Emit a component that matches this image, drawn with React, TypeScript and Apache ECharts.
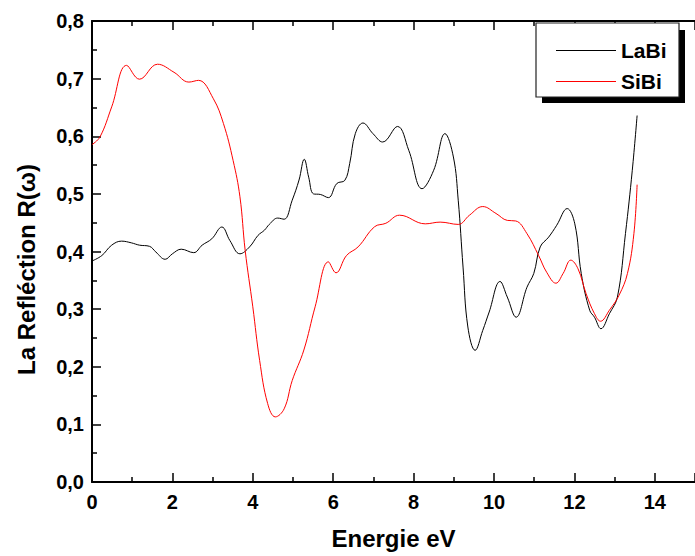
import React, { useEffect, useRef } from "react";
import * as echarts from "echarts";

const laBiX = [0.0, 0.245, 0.49, 0.735, 0.98, 1.18, 1.43, 1.59, 1.82, 2.0, 2.22, 2.53, 2.74, 2.98, 3.23, 3.43, 3.68, 3.92, 4.13, 4.29, 4.41, 4.62, 4.78, 4.98, 5.15, 5.28, 5.39, 5.51, 5.68, 5.88, 6.09, 6.29, 6.41, 6.55, 6.74, 6.99, 7.23, 7.6, 7.88, 8.21, 8.5, 8.78, 8.99, 9.11, 9.23, 9.35, 9.53, 9.72, 9.88, 10.15, 10.33, 10.55, 10.82, 10.99, 11.15, 11.36, 11.56, 11.82, 12.01, 12.17, 12.38, 12.5, 12.66, 12.87, 13.07, 13.27, 13.44, 13.56];
const laBiY = [0.3835, 0.393, 0.411, 0.418, 0.415, 0.411, 0.409, 0.399, 0.3865, 0.396, 0.404, 0.398, 0.411, 0.422, 0.4425, 0.419, 0.396, 0.408, 0.428, 0.437, 0.447, 0.458, 0.456, 0.489, 0.524, 0.56, 0.529, 0.5, 0.499, 0.4935, 0.518, 0.5235, 0.5525, 0.6045, 0.623, 0.6045, 0.59, 0.617, 0.5755, 0.509, 0.541, 0.6045, 0.564, 0.489, 0.373, 0.269, 0.2285, 0.263, 0.295, 0.348, 0.321, 0.286, 0.338, 0.362, 0.408, 0.425, 0.4455, 0.4745, 0.448, 0.362, 0.298, 0.286, 0.266, 0.292, 0.321, 0.431, 0.541, 0.636];

const siBiX = [0.0, 0.2, 0.49, 0.86, 1.18, 1.63, 2.04, 2.41, 2.65, 3.02, 3.27, 3.51, 3.68, 3.81, 4.0, 4.17, 4.37, 4.56, 4.78, 4.98, 5.27, 5.55, 5.88, 6.07, 6.33, 6.62, 7.03, 7.31, 7.65, 8.29, 8.66, 9.11, 9.39, 9.72, 10.05, 10.33, 10.54, 10.82, 11.11, 11.31, 11.54, 11.72, 11.91, 12.09, 12.29, 12.5, 12.65, 12.87, 13.11, 13.32, 13.48, 13.56];
const siBiY = [0.5855, 0.599, 0.651, 0.723, 0.699, 0.725, 0.711, 0.694, 0.697, 0.665, 0.622, 0.558, 0.495, 0.402, 0.304, 0.211, 0.136, 0.113, 0.127, 0.176, 0.229, 0.304, 0.382, 0.363, 0.393, 0.408, 0.443, 0.449, 0.463, 0.448, 0.451, 0.447, 0.463, 0.478, 0.466, 0.454, 0.453, 0.431, 0.393, 0.364, 0.345, 0.362, 0.385, 0.37, 0.327, 0.292, 0.279, 0.298, 0.324, 0.362, 0.431, 0.516];

const seriesNames = ["LaBi", "SiBi"];
const xTitle = "Energie eV";
const yTitle = "La Refléction R(ω)";

const FONT = "'Liberation Sans', Arial, sans-serif";

export default function App() {
  const ref = useRef<HTMLDivElement>(null);
  useEffect(() => {
    if (!ref.current) return;
    const chart = echarts.init(ref.current, null, { renderer: "svg" });
    const axisLine = { show: true, onZero: false, lineStyle: { color: "#000", width: 2 } };
    const pairs = (xs: number[], ys: number[]) => xs.map((x, i) => [x, ys[i]]);
    chart.setOption({
      animation: false,
      backgroundColor: "#fff",
      grid: { left: 92, top: 21, width: 612, height: 461, containLabel: false },
      xAxis: [
        {
          type: "value",
          min: 0,
          max: 15,
          interval: 2,
          position: "bottom",
          axisLine,
          axisTick: { show: true, inside: true, length: 9, lineStyle: { color: "#000", width: 1.5 } },
          minorTick: { show: true, splitNumber: 2, length: 5, lineStyle: { color: "#000", width: 1.5 } },
          splitLine: { show: false },
          axisLabel: { showMaxLabel: false, margin: 10, color: "#000", fontSize: 20, fontWeight: "bold", fontFamily: FONT },
          name: xTitle,
          nameLocation: "middle",
          nameGap: 44,
          nameTextStyle: { color: "#000", fontSize: 24, fontWeight: "bold", fontFamily: FONT },
        },
        {
          type: "value",
          min: 0,
          max: 15,
          interval: 2,
          position: "top",
          axisLine,
          axisTick: { show: true, inside: true, length: 9, lineStyle: { color: "#000", width: 1.5 } },
          minorTick: { show: true, splitNumber: 2, length: 5, lineStyle: { color: "#000", width: 1.5 } },
          splitLine: { show: false },
          axisLabel: { show: false },
        },
      ],
      yAxis: {
        type: "value",
        min: 0,
        max: 0.8,
        interval: 0.1,
        axisLine,
        axisTick: { show: true, inside: true, length: 9, lineStyle: { color: "#000", width: 1.5 } },
        minorTick: { show: true, splitNumber: 2, length: 5, lineStyle: { color: "#000", width: 1.5 } },
        splitLine: { show: false },
        axisLabel: {
          margin: 8,
          color: "#000",
          fontSize: 20,
          fontWeight: "bold",
          fontFamily: FONT,
          formatter: (v: number) => v.toFixed(1).replace(".", ","),
        },
        name: yTitle,
        nameLocation: "middle",
        nameGap: 54,
        nameTextStyle: { color: "#000", fontSize: 24, fontWeight: "bold", fontFamily: FONT, padding: [0, 36, 0, 0] },
      },
      legend: {
        show: true,
        orient: "vertical",
        left: 551,
        top: 35,
        icon: "rect",
        itemWidth: 60,
        itemHeight: 1.2,
        itemGap: 10,
        z: 10,
        textStyle: { color: "#000", fontSize: 21, fontWeight: "bold", fontFamily: FONT, lineHeight: 21 },
        data: seriesNames,
      },
      graphic: [
        { type: "rect", z: 5, shape: { x: 542, y: 30, width: 143, height: 73 }, style: { fill: "#000" } },
        { type: "rect", z: 6, shape: { x: 536, y: 23, width: 143, height: 74 }, style: { fill: "#fff", stroke: "#222", lineWidth: 1.2 } },
      ],
      series: [
        {
          name: seriesNames[0],
          type: "line",
          data: pairs(laBiX, laBiY),
          smooth: 0.4,
          symbol: "none",
          lineStyle: { color: "#000", width: 1 },
          itemStyle: { color: "#000" },
        },
        {
          name: seriesNames[1],
          type: "line",
          data: pairs(siBiX, siBiY),
          smooth: 0.4,
          symbol: "none",
          lineStyle: { color: "#ff0000", width: 1 },
          itemStyle: { color: "#ff0000" },
        },
      ],
    });
    return () => chart.dispose();
  }, []);
  return <div ref={ref} style={{ position: "absolute", left: 0, top: 0, width: 695, height: 556 }} />;
}
